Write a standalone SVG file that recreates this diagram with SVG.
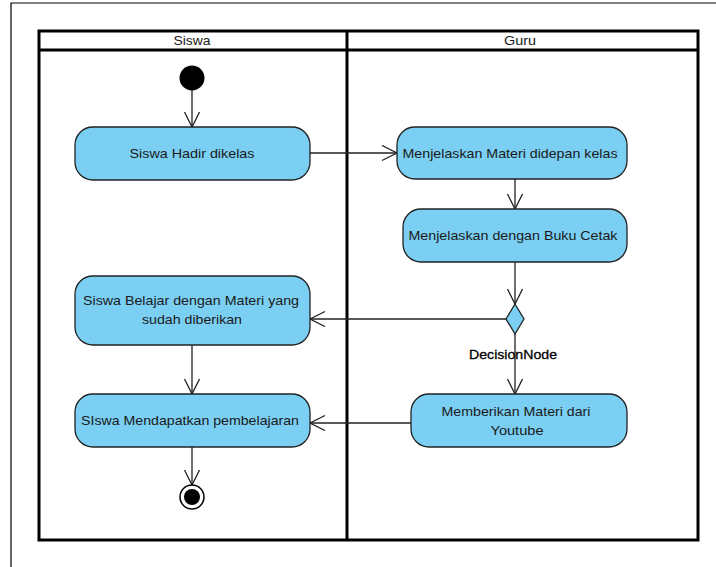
<svg xmlns="http://www.w3.org/2000/svg" width="716" height="567" viewBox="0 0 716 567">
<style>
text{font-family:"Liberation Sans",Arial,sans-serif;font-size:13px;fill:#1a1a1a;text-anchor:middle}
.act{fill:#7acff3;stroke:#222;stroke-width:1.3}
.lane{fill:none;stroke:#000;stroke-width:3}
.edge{fill:none;stroke:#222;stroke-width:1.3}
</style>
<defs>
<marker id="arr" markerWidth="20" markerHeight="20" refX="16" refY="8" orient="auto" markerUnits="userSpaceOnUse">
<path d="M1,0.5 L16,8 L1,15.5" fill="none" stroke="#222" stroke-width="1.3"/>
</marker>
</defs>
<rect width="716" height="567" fill="#fff"/>
<path d="M11,567 V3 H716" fill="none" stroke="#000" stroke-width="1.2"/>
<g id="swimlanes">
<rect x="39" y="31" width="659" height="509" class="lane"/>
<line x1="39" y1="50" x2="698" y2="50" class="lane"/>
<line x1="347" y1="31" x2="347" y2="540" class="lane"/>
<text x="192" y="45" textLength="37" lengthAdjust="spacingAndGlyphs">Siswa</text>
<text x="520" y="45" textLength="32" lengthAdjust="spacingAndGlyphs">Guru</text>
</g>
<g id="connectors">
<line x1="192" y1="90" x2="192" y2="127" class="edge" marker-end="url(#arr)"/>
<line x1="310" y1="153" x2="397" y2="153" class="edge" marker-end="url(#arr)"/>
<line x1="515" y1="179" x2="515" y2="209" class="edge" marker-end="url(#arr)"/>
<line x1="515" y1="262" x2="515" y2="304" class="edge" marker-end="url(#arr)"/>
<line x1="506" y1="319" x2="310" y2="319" class="edge" marker-end="url(#arr)"/>
<line x1="515" y1="334" x2="515" y2="394" class="edge" marker-end="url(#arr)"/>
<line x1="411" y1="423" x2="310" y2="423" class="edge" marker-end="url(#arr)"/>
<line x1="192" y1="345" x2="192" y2="394" class="edge" marker-end="url(#arr)"/>
<line x1="192" y1="447" x2="192" y2="485" class="edge" marker-end="url(#arr)"/>
</g>
<g id="initial"><circle cx="192" cy="78" r="12.5" fill="#000"/></g>
<g id="siswa-hadir">
<rect x="75" y="127" width="235" height="53" rx="18" class="act"/>
<text x="192" y="158" textLength="125" lengthAdjust="spacingAndGlyphs">Siswa Hadir dikelas</text>
</g>
<g id="menjelaskan-materi">
<rect x="397" y="127" width="230" height="52" rx="18" class="act"/>
<text x="510" y="158" textLength="215" lengthAdjust="spacingAndGlyphs">Menjelaskan Materi didepan kelas</text>
</g>
<g id="menjelaskan-buku">
<rect x="403" y="209" width="224" height="53" rx="18" class="act"/>
<text x="513" y="240" textLength="209" lengthAdjust="spacingAndGlyphs">Menjelaskan dengan Buku Cetak</text>
</g>
<g id="decision">
<polygon points="515,304 524,319 515,334 506,319" class="act"/>
<text x="513" y="359" textLength="88" lengthAdjust="spacingAndGlyphs" style="fill:#000;stroke:#000;stroke-width:0.3">DecisionNode</text>
</g>
<g id="siswa-belajar">
<rect x="75" y="276" width="235" height="69" rx="18" class="act"/>
<text x="191" y="305" textLength="216" lengthAdjust="spacingAndGlyphs">Siswa Belajar dengan Materi yang</text>
<text x="192" y="324" textLength="100" lengthAdjust="spacingAndGlyphs">sudah diberikan</text>
</g>
<g id="memberikan">
<rect x="411" y="394" width="216" height="53" rx="18" class="act"/>
<text x="516" y="416" textLength="149" lengthAdjust="spacingAndGlyphs">Memberikan Materi dari</text>
<text x="517" y="435" textLength="53" lengthAdjust="spacingAndGlyphs">Youtube</text>
</g>
<g id="siswa-mendapatkan">
<rect x="75" y="394" width="235" height="53" rx="18" class="act"/>
<text x="190" y="425" textLength="218" lengthAdjust="spacingAndGlyphs">SIswa Mendapatkan pembelajaran</text>
</g>
<g id="final">
<circle cx="192" cy="497" r="12" fill="#fff" stroke="#000" stroke-width="1.5"/>
<circle cx="192" cy="497" r="8" fill="#000"/>
</g>
</svg>
